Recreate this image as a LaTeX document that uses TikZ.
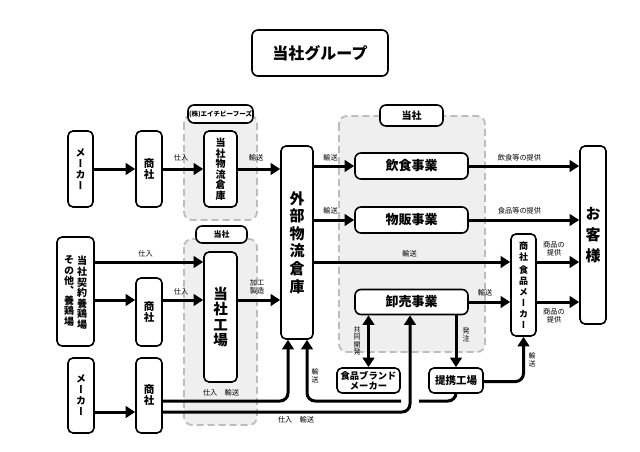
\documentclass[tikz,border=0pt]{standalone}
\usepackage{fontspec}
\setmainfont{Noto Sans CJK JP}
\newfontfamily\vjp{Noto Sans CJK JP}[RawFeature=+vert]
\usetikzlibrary{arrows.meta}
\definecolor{grpfill}{HTML}{EFEFEF}
\definecolor{grpline}{HTML}{BDBDBD}
\newcommand\vfs[2]{\vjp\bfseries\fontsize{#1}{#2}\selectfont}
\newcommand\hfs[2]{\bfseries\fontsize{#1}{#2}\selectfont}
\tikzset{
 box/.style={draw, line width=1.6pt, rounded corners=5pt, fill=white, inner sep=0pt, align=center},
 grpbox/.style={draw=grpline, fill=grpfill, line width=1.8pt, dash pattern=on 7pt off 4pt, rounded corners=8pt},
 arr/.style={line width=3pt, -{Triangle[length=9.5pt,width=11.5pt]}},
 darr/.style={line width=3pt, {Triangle[length=9.5pt,width=11.5pt]}-{Triangle[length=9.5pt,width=11.5pt]}},
 plainline/.style={line width=3pt},
 lbl/.style={font=\fontsize{7.2}{8}\selectfont, inner sep=0pt, align=center},
 vlbl/.style={font=\vjp\fontsize{7}{7.4}\selectfont, inner sep=0pt, align=center},
 vtxt/.style={inner sep=0pt, align=center},
}
\begin{document}
\begin{tikzpicture}[x=1pt,y=-1pt]
\useasboundingbox[fill=white] (0,0) rectangle (640,452);
% groups
\draw[grpbox] (184,115) rectangle (257,220);
\draw[grpbox] (184,239) rectangle (257,425);
\draw[grpbox] (339,116) rectangle (485,352);

% row coordinates
\coordinate (y262) at (0,262);
\coordinate (y300) at (0,300);
\coordinate (y401) at (0,401);
\coordinate (y412) at (0,412);

% nodes
\node[box, minimum width=136, minimum height=46, rounded corners=6pt, font=\hfs{16}{18}] (title) at (320,53) {当社グループ};

\node[box, minimum width=65, minimum height=18, rounded corners=6pt, font=\hfs{6.5}{7}] (g1lbl) at (220.5,114) {(株)エイチビーフーズ};
\node[box, minimum width=51, minimum height=17, rounded corners=6pt, font=\hfs{8}{9}] (g2lbl) at (221.5,234.5) {当社};
\node[box, minimum width=63, minimum height=21, rounded corners=6pt, font=\hfs{10}{11}] (g3lbl) at (411.5,115.5) {当社};

\node[box, minimum width=25, minimum height=76, font=\vfs{10}{11}] (mk1) at (80.5,169) {メ\\ー\\カ\\ー};
\node[box, minimum width=26, minimum height=76, font=\vfs{10.5}{11}] (sh1) at (149,169) {商\\社};
\node[box, minimum width=33, minimum height=76, font=\vfs{10}{10.5}] (wh1) at (220.5,169) {当\\社\\物\\流\\倉\\庫};
\node[box, minimum width=32, minimum height=193, font=\vfs{15}{17.6}] (ext) at (297,242.5) {外\\部\\物\\流\\倉\\庫};

\node[box, minimum width=37, minimum height=109] (farm) at (75.5,291.5) {};
\node[vtxt, font=\vfs{10}{10.6}] (farmR) at (82,293) {当\\社\\契\\約\\養\\鶏\\場};
\node[vtxt, font=\vfs{10}{10.2}] (farmL) at (69,291) {そ\\の\\他\\、\\養\\鶏\\場};

\node[box, minimum width=26, minimum height=68] (sh2) at (149,312) {};
\node[vtxt, font=\vfs{10.5}{11}] (sh2t) at (149,312) {商\\社};
\node[box, minimum width=33, minimum height=130, font=\vfs{14.5}{15.2}] (fac) at (220.5,317) {当\\社\\工\\場};

\node[box, minimum width=26, minimum height=75, font=\vfs{10}{11}] (mk3) at (81,395.5) {メ\\ー\\カ\\ー};
\node[box, minimum width=26, minimum height=75, font=\vfs{10.5}{11}] (sh3) at (149,395.5) {商\\社};

\node[box, minimum width=113, minimum height=26, rounded corners=6pt, font=\hfs{13}{14}] (inshoku) at (411.5,166) {飲食事業};
\node[box, minimum width=113, minimum height=26, rounded corners=6pt, font=\hfs{13}{14}] (bupan) at (411.5,220) {物販事業};
\node[box, minimum width=113, minimum height=25, rounded corners=6pt, font=\hfs{13}{14}] (oroshi) at (411.5,302) {卸売事業};
\node[box, minimum width=26, minimum height=178, font=\vfs{15}{21}] (cust) at (593,235) {お\\客\\様};
\node[box, minimum width=25, minimum height=102, font=\vfs{9}{11}] (shm) at (523.5,285) {商\\社\\[2.5pt]食\\品\\メ\\ー\\カ\\ー};
\node[box, minimum width=63, minimum height=25, font=\hfs{9.3}{10.3}] (brand) at (368.5,380.5) {食品ブランド\\メーカー};
\node[box, minimum width=54, minimum height=25, font=\hfs{10.5}{11}] (teikei) at (456,380.5) {提携工場};

% connectors
\draw[arr] (mk1.east) -- (sh1.west);
\draw[arr] (sh1.east) -- (wh1.west);
\draw[arr] (wh1.east) -- (ext.west |- wh1.east);

\draw[arr] (farm.east |- y262) -- (fac.west |- y262);
\draw[arr] (farm.east |- y300) -- (sh2.west |- y300);
\draw[arr] (sh2.east |- y300) -- (fac.west |- y300);
\draw[arr] (fac.east |- y300) -- (ext.west |- y300);

\draw[arr] (mk3.east |- y412) -- (sh3.west |- y412);
\draw[arr, rounded corners=8pt] (sh3.east |- y401) -| ([xshift=-9pt]ext.south);
\draw[arr, rounded corners=8pt] (sh3.east |- y412) -| ([xshift=-1.5pt]oroshi.south);

\coordinate (gapR) at (419,401);
\coordinate (gapL) at (401,401);
\draw[plainline, rounded corners=8pt] (teikei.south) |- (gapR);
\draw[arr, rounded corners=8pt] (gapL) -| ([xshift=10pt]ext.south);

\draw[arr] (ext.east |- inshoku.west) -- (inshoku.west);
\draw[arr] (ext.east |- bupan.west) -- (bupan.west);
\draw[arr] (ext.east |- y262) -- (shm.west |- y262);
\draw[arr] (inshoku.east) -- (cust.west |- inshoku.east);
\draw[arr] (bupan.east) -- (cust.west |- bupan.east);
\draw[arr] (shm.east |- y262) -- (cust.west |- y262);
\draw[arr] (oroshi.east) -- (shm.west |- oroshi.east);
\draw[arr] (shm.east |- oroshi.east) -- (cust.west |- oroshi.east);

\draw[darr] (oroshi.south -| brand.north) -- (brand.north);
\draw[arr] (oroshi.south -| teikei.north) -- (teikei.north);
\draw[arr, rounded corners=8pt] ([yshift=-1pt]teikei.east) -| (shm.south);

% labels
\node[lbl] (l1) at (181,158) {仕入};
\node[lbl] (l2) at (256,158) {輸送};
\node[lbl] (l3) at (145.5,254) {仕入};
\node[lbl] (l4) at (181,292) {仕入};
\node[lbl] (l5) at (257,287) {加工\\製造};
\node[lbl] (l6) at (221,393) {仕入　輸送};
\node[lbl] (l7) at (296,420) {仕入　輸送};
\node[vlbl] (l8) at (315,376) {輸\\送};
\node[lbl] (l9) at (330.5,158) {輸送};
\node[lbl] (l10) at (330.5,211) {輸送};
\node[lbl] (l11) at (519.5,158) {飲食等の提供};
\node[lbl] (l12) at (519.5,211) {食品等の提供};
\node[lbl] (l13) at (409.5,254) {輸送};
\node[lbl] (l14) at (554,249) {商品の\\提供};
\node[lbl] (l15) at (554,315.5) {商品の\\提供};
\node[lbl] (l16) at (485,293) {輸送};
\node[vlbl] (l17) at (357,341) {共\\同\\開\\発};
\node[vlbl] (l18) at (466,335) {発\\注};
\node[vlbl] (l19) at (532,360) {輸\\送};
\end{tikzpicture}
\end{document}
